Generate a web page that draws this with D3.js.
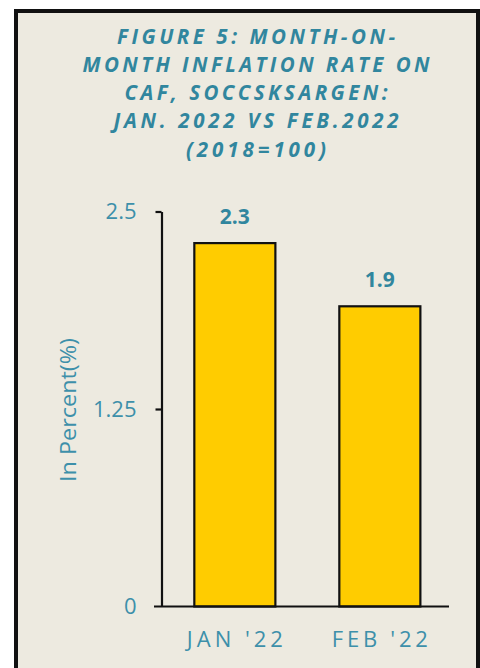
<!DOCTYPE html>
<html>
<head>
<meta charset="utf-8">
<script src="https://cdn.jsdelivr.net/npm/d3@7"></script>
<style>
  html, body { margin: 0; padding: 0; background: #ffffff; }
  svg { display: block; }
</style>
</head>
<body>
<div id="chart"></div>
<script>
// Month-on-month inflation rate on CAF, SOCCSKSARGEN
const categories = ["JAN '22", "FEB '22"];
const values = [2.3, 1.9];
const yTicks = [0, 1.25, 2.5];
const yTickLabels = ["0", "1.25", "2.5"];
const titleLines = [
  "FIGURE 5: MONTH-ON-",
  "MONTH INFLATION RATE ON",
  "CAF, SOCCSKSARGEN:",
  "JAN. 2022 VS FEB.2022",
  "(2018=100)"
];
const titleWidths = [278, 347, 263, 285, 140];
const yAxisTitle = "In Percent(%)";

const W = 480, H = 668;
const teal = "#31869E";
const tickTeal = "#3D90AA";

const svg = d3.select("#chart").append("svg")
  .attr("width", W).attr("height", H);

// panel with heavy frame
svg.append("rect").attr("x", 0).attr("y", 0).attr("width", W).attr("height", H).attr("fill", "#ffffff");
svg.append("rect")
  .attr("x", 16).attr("y", 11).attr("width", 462).attr("height", H + 10)
  .attr("fill", "#EDEAE0").attr("stroke", "#111").attr("stroke-width", 4);

// title
svg.append("g").selectAll("text").data(titleLines).join("text")
  .attr("x", 256)
  .attr("y", (d, i) => 43.5 + i * 28.3)
  .attr("text-anchor", "middle")
  .attr("textLength", (d, i) => titleWidths[i])
  .attr("lengthAdjust", "spacing")
  .attr("font-family", "'Open Sans', sans-serif")
  .attr("font-weight", "bold")
  .attr("font-style", "italic")
  .attr("font-size", 20.5)
  .attr("fill", teal)
  .text(d => d);

// scales
const y = d3.scaleLinear().domain([0, 2.5]).range([606.5, 211.5]);
const x = d3.scaleBand().domain(categories)
  .range([161.7, 453]).paddingInner(0.441).paddingOuter(0.225);

// y axis
const yAxis = d3.axisLeft(y).tickValues(yTicks)
  .tickFormat((d, i) => yTickLabels[i])
  .tickSize(6).tickSizeOuter(0).tickPadding(19);
const gy = svg.append("g").attr("transform", "translate(161.5,0)").call(yAxis);
gy.select(".domain").attr("stroke", "#111").attr("stroke-width", 2.2);
gy.selectAll(".tick line").attr("stroke", "#111").attr("stroke-width", 2.2);
gy.selectAll(".tick text")
  .attr("font-family", "'Open Sans', sans-serif")
  .attr("font-size", 22).attr("fill", tickTeal);
gy.selectAll(".tick").filter(d => d === 0).select("line").remove();

// bars
svg.append("g").selectAll("rect").data(values).join("rect")
  .attr("x", (d, i) => x(categories[i]))
  .attr("y", d => y(d))
  .attr("width", x.bandwidth())
  .attr("height", d => y(0) - y(d))
  .attr("fill", "#FFCC00")
  .attr("stroke", "#111").attr("stroke-width", 2.2);

// value labels
svg.append("g").selectAll("text").data(values).join("text")
  .attr("x", (d, i) => x(categories[i]) + x.bandwidth() / 2)
  .attr("y", d => y(d) - 19)
  .attr("text-anchor", "middle")
  .attr("font-family", "'Open Sans', sans-serif")
  .attr("font-weight", "bold")
  .attr("font-size", 21)
  .attr("fill", teal)
  .text(d => d.toFixed(1));

// x axis
const xAxis = d3.axisBottom(x).tickSize(0).tickSizeOuter(0).tickPadding(25);
const gx = svg.append("g").attr("transform", `translate(0,${y(0)})`).call(xAxis);
gx.select(".domain").remove();
svg.append("line")
  .attr("x1", 154).attr("x2", 449)
  .attr("y1", y(0)).attr("y2", y(0))
  .attr("stroke", "#111").attr("stroke-width", 2.2);
gx.selectAll(".tick text")
  .attr("font-family", "'Open Sans', sans-serif")
  .attr("font-size", 22)
  .attr("textLength", 96)
  .attr("lengthAdjust", "spacing")
  .attr("fill", tickTeal);

// y axis title
svg.append("text")
  .attr("transform", "translate(76,410) rotate(-90)")
  .attr("text-anchor", "middle")
  .attr("font-family", "'Open Sans', sans-serif")
  .attr("font-size", 22)
  .attr("textLength", 144)
  .attr("lengthAdjust", "spacingAndGlyphs")
  .attr("fill", tickTeal)
  .text(yAxisTitle);
</script>
</body>
</html>
